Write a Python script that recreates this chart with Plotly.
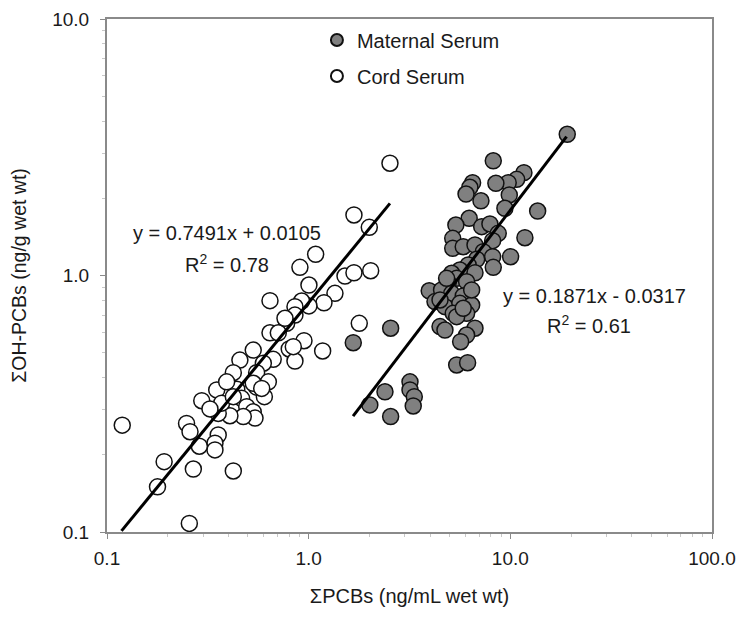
import plotly.graph_objects as go

# ---- data ----
cord_x = [2.53, 1.677, 1.998, 1.083, 0.905, 1.003, 1.514, 1.677, 2.03, 1.35,
          1.191, 1.003, 0.923, 0.855, 0.855, 0.778, 0.643, 0.643, 0.707, 0.948,
          0.801, 0.855, 1.173, 1.782, 0.667, 0.596, 0.531, 0.456, 0.423, 0.552,
          0.631, 0.552, 0.603, 0.44, 0.377, 0.35, 0.465, 0.493, 0.531, 0.542,
          0.474, 0.407, 0.356, 0.37, 0.295, 0.248, 0.258, 0.356, 0.343, 0.343,
          0.287, 0.192, 0.268, 0.423, 0.178, 0.119, 0.256, 0.763, 0.531, 0.585,
          0.392, 0.423, 0.324, 0.839]
cord_y = [2.74, 1.722, 1.541, 1.21, 1.076, 0.918, 0.995, 1.025, 1.044, 0.852,
          0.783, 0.761, 0.795, 0.756, 0.701, 0.651, 0.798, 0.598, 0.598, 0.557,
          0.517, 0.464, 0.508, 0.651, 0.471, 0.455, 0.512, 0.468, 0.418, 0.418,
          0.385, 0.367, 0.337, 0.36, 0.342, 0.358, 0.332, 0.308, 0.294, 0.278,
          0.282, 0.284, 0.29, 0.318, 0.325, 0.265, 0.246, 0.239, 0.222, 0.209,
          0.216, 0.188, 0.176, 0.173, 0.150, 0.261, 0.108, 0.681, 0.38, 0.363,
          0.385, 0.337, 0.302, 0.528]

mat_x = [19.15, 8.23, 11.68, 10.75, 9.76, 8.48, 6.50, 6.30, 6.03, 7.15,
         9.88, 9.40, 13.66, 11.81, 6.25, 5.37, 7.21, 7.92, 8.71, 8.17,
         5.18, 5.18, 5.84, 6.68, 7.34, 8.17, 10.03, 8.23, 6.81, 6.18,
         5.62, 6.68, 5.12, 5.42, 4.92, 6.07, 3.96, 4.56, 5.12, 5.84,
         4.23, 4.74, 5.62, 6.43, 5.21, 6.07, 5.42, 4.48, 4.74, 6.68,
         6.07, 5.67, 5.42, 6.14, 2.55, 1.664, 3.18, 3.18, 3.34, 3.30,
         2.39, 2.01, 2.55, 4.83, 4.48, 5.84, 6.43]
mat_y = [3.553, 2.80, 2.517, 2.371, 2.30, 2.288, 2.30, 2.207, 2.078, 1.956,
         2.06, 1.828, 1.784, 1.404, 1.671, 1.573, 1.55, 1.588, 1.46, 1.367,
         1.396, 1.276, 1.295, 1.315, 1.238, 1.184, 1.184, 1.076, 1.157, 1.099,
         1.05, 1.025, 1.02, 0.975, 0.937, 0.946, 0.872, 0.878, 0.852, 0.832,
         0.791, 0.756, 0.779, 0.767, 0.712, 0.712, 0.691, 0.632, 0.613, 0.623,
         0.586, 0.552, 0.448, 0.457, 0.623, 0.547, 0.385, 0.358, 0.337, 0.31,
         0.352, 0.313, 0.282, 0.975, 0.803, 0.745, 0.878]

# fitted trend lines (end points)
cord_fit_x = [0.118, 2.53]
cord_fit_y = [0.101, 1.91]
mat_fit_x = [1.66, 19.0]
mat_fit_y = [0.283, 3.48]

tick_vals = [0.1, 1, 10, 100]
x_tick_text = ["0.1", "1.0", "10.0", "100.0"]
y_tick_vals = [0.1, 1, 10]
y_tick_text = ["0.1", "1.0", "10.0"]
minor_vals = [m * d for d in (0.1, 1, 10) for m in range(2, 10)]

FONT = "Liberation Sans, Arial, sans-serif"
TXT = "#1a1a1a"

fig = go.Figure()
fig.add_trace(go.Scatter(
    x=mat_x, y=mat_y, mode="markers", name="Maternal Serum", legend="legend",
    marker=dict(size=16, color="#808080", line=dict(color="#111111", width=1.5))))
fig.add_trace(go.Scatter(
    x=cord_x, y=cord_y, mode="markers", name="Cord Serum", legend="legend2",
    marker=dict(size=16, color="white", line=dict(color="#111111", width=1.5))))
fig.add_trace(go.Scatter(x=cord_fit_x, y=cord_fit_y, mode="lines", showlegend=False,
                         line=dict(color="black", width=3)))
fig.add_trace(go.Scatter(x=mat_fit_x, y=mat_fit_y, mode="lines", showlegend=False,
                         line=dict(color="black", width=3)))

axis_common = dict(
    type="log", showgrid=False, zeroline=False, automargin=False,
    showline=True, linecolor="#8a8a8a", linewidth=2, mirror=True,
    ticks="outside", ticklen=5, tickcolor="#8a8a8a", tickwidth=1,
    tickfont=dict(family=FONT, size=19, color=TXT),
    minor=dict(tickvals=minor_vals, ticks="outside", ticklen=3,
               tickcolor="#c8c8c8", tickwidth=1),
)

fig.update_xaxes(range=[-1, 2], tickvals=tick_vals, ticktext=x_tick_text,
                 ticklabelstandoff=3,
                 title=dict(text="ΣPCBs (ng/mL wet wt)",
                            font=dict(family=FONT, size=20, color=TXT),
                            standoff=21),
                 **axis_common)
fig.update_yaxes(range=[-1, 1], tickvals=y_tick_vals, ticktext=y_tick_text,
                 ticklabelstandoff=7,
                 title=dict(text="ΣOH-PCBs (ng/g wet wt)",
                            font=dict(family=FONT, size=19.5, color=TXT),
                            standoff=21),
                 **axis_common)

ann_font = dict(family=FONT, size=20, color=TXT)
for xp, yp, txt in [(0.199, 0.582, "y = 0.7491x + 0.0105"),
                    (0.199, 0.524, "R<sup>2</sup> = 0.78"),
                    (0.805, 0.460, "y = 0.1871x - 0.0317"),
                    (0.797, 0.405, "R<sup>2</sup> = 0.61")]:
    fig.add_annotation(x=xp, y=yp, xref="paper", yref="paper", text=txt,
                       xanchor="center", yanchor="middle",
                       showarrow=False, font=ann_font)

leg_common = dict(x=0.347, xanchor="left", yanchor="middle", itemsizing="constant",
                  bgcolor="rgba(0,0,0,0)", borderwidth=0,
                  font=dict(family=FONT, size=20, color=TXT))
# the page body adds an 8px offset, so the figure is 8px smaller than the window
fig.update_layout(
    width=739, height=617,
    margin=dict(l=99, r=35, t=11, b=93, autoexpand=False),
    paper_bgcolor="white", plot_bgcolor="white",
    showlegend=True,
    legend=dict(y=0.959, **leg_common),
    legend2=dict(y=0.889, **leg_common),
)

fig.write_html("out.html")
